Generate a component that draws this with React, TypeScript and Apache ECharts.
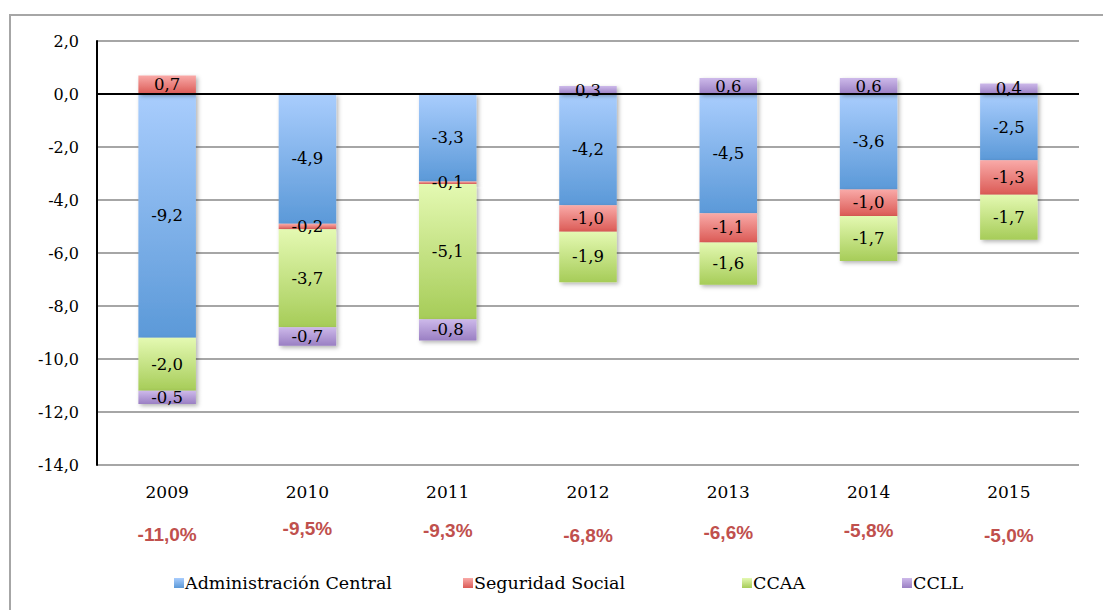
import React, { useEffect, useRef } from "react";
import * as echarts from "echarts";

const years = ["2009", "2010", "2011", "2012", "2013", "2014", "2015"];
const administracionCentral = [-9.2, -4.9, -3.3, -4.2, -4.5, -3.6, -2.5];
const seguridadSocial = [0.7, -0.2, -0.1, -1.0, -1.1, -1.0, -1.3];
const ccaa = [-2.0, -3.7, -5.1, -1.9, -1.6, -1.7, -1.7];
const ccll = [-0.5, -0.7, -0.8, 0.3, 0.6, 0.6, 0.4];
const totals = ["-11,0%", "-9,5%", "-9,3%", "-6,8%", "-6,6%", "-5,8%", "-5,0%"];

const seriesNames = ["Administración Central", "Seguridad Social", "CCAA", "CCLL"];
const seriesData = [administracionCentral, seguridadSocial, ccaa, ccll];
const gradients: [string, string][] = [
  ["#a9cdfd", "#5b99d8"],
  ["#f9aaa8", "#db5a55"],
  ["#e4f9b2", "#a6cc58"],
  ["#cdb9ea", "#9a7fc3"],
];
const legendLeft = [169, 458, 737, 897];
const totalShift = [2, -4, -2, 3, 0, -2, 3];

const SERIF = "'DejaVu Serif', Georgia, serif";
const fmt = (v: number) => v.toFixed(1).replace(".", ",");

export default function App() {
  const ref = useRef<HTMLDivElement>(null);
  useEffect(() => {
    if (!ref.current) return;
    const chart = echarts.init(ref.current, null, { renderer: "svg" });
    const grad = (c: [string, string]) =>
      new echarts.graphic.LinearGradient(0, 0, 0, 1, [
        { offset: 0, color: c[0] },
        { offset: 1, color: c[1] },
      ]);
    const rich: any = {
      y: { fontFamily: SERIF, fontSize: 17, color: "#000", lineHeight: 40, height: 40 },
    };
    totalShift.forEach((s, i) => {
      rich["p" + i] = {
        fontFamily: "'Liberation Sans', Arial, sans-serif",
        fontSize: 19,
        fontWeight: "bold",
        color: "#c0504d",
        lineHeight: 40,
        padding: [s > 0 ? 2 * s : 0, 0, s < 0 ? -2 * s : 0, 0],
      };
    });
    chart.setOption({
      animation: false,
      backgroundColor: "#ffffff",
      graphic: [
        {
          type: "rect",
          shape: { x: 10, y: 15, width: 1100, height: 610 },
          style: { fill: "none", stroke: "#a6a6a6", lineWidth: 2 },
          silent: true,
        },
      ],
      grid: { left: 97, right: 24, top: 41, bottom: 145, containLabel: false, outerBoundsMode: "none" },
      legend: seriesNames.map((name, i) => ({
        top: 569,
        left: legendLeft[i],
        itemWidth: 10,
        itemHeight: 10,
        icon: "rect",
        itemStyle: { color: grad(gradients[i]) },
        textStyle: { fontFamily: SERIF, fontSize: 17.5, color: "#000", padding: [0, 0, 0, -4] },
        data: [name],
      })),
      xAxis: {
        type: "category",
        data: years,
        position: "bottom",
        axisLine: { show: false },
        axisTick: { show: false },
        axisLabel: {
          interval: 0,
          margin: 7,
          formatter: (v: string, i: number) => `{y|${v}}\n{p${i}|${totals[i]}}`,
          rich,
        },
      },
      yAxis: {
        type: "value",
        min: -14,
        max: 2,
        interval: 2,
        axisLine: { show: true, lineStyle: { color: "#000", width: 2 } },
        axisTick: { show: false },
        axisLabel: {
          formatter: (v: number) => fmt(v),
          fontFamily: SERIF,
          fontSize: 16,
          color: "#000",
          margin: 18,
        },
        splitLine: { show: true, lineStyle: { color: "#a6a6a6", width: 2 } },
      },
      series: [
        ...seriesNames.map((name, i) => ({
          name,
          type: "bar",
          stack: "total",
          barWidth: "41%",
          data: seriesData[i],
          itemStyle: {
            color: grad(gradients[i]),
            shadowColor: "rgba(0,0,0,0.3)",
            shadowBlur: 4,
            shadowOffsetX: 2,
            shadowOffsetY: 2,
          },
          label: {
            show: true,
            position: "inside",
            formatter: (p: any) => fmt(p.value),
            fontFamily: SERIF,
            fontSize: 16.5,
            color: "#000",
          },
          z: 2,
        })),
        {
          name: "zero",
          type: "line",
          data: [],
          markLine: {
            silent: true,
            symbol: "none",
            label: { show: false },
            lineStyle: { color: "#000", width: 2, type: "solid" },
            data: [{ yAxis: 0 }],
          },
          z: 5,
        },
      ],
    });
    return () => chart.dispose();
  }, []);
  return <div ref={ref} style={{ width: 1103, height: 610, position: "absolute", left: 0, top: 0 }} />;
}
